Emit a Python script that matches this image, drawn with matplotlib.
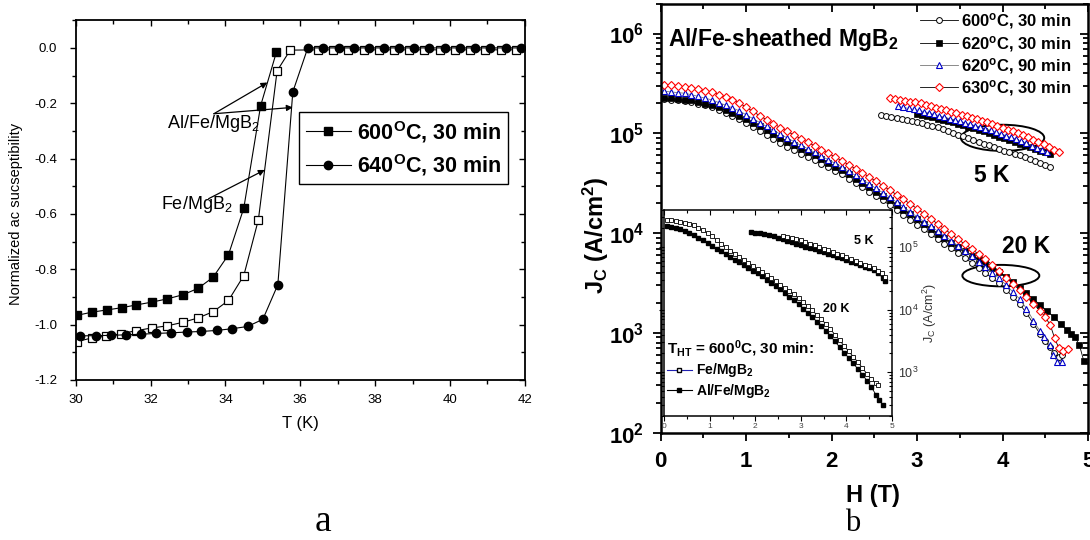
import numpy as np
import matplotlib
matplotlib.use("Agg")
import matplotlib.pyplot as plt
from matplotlib.patches import Ellipse
from matplotlib.lines import Line2D
from matplotlib.ticker import MultipleLocator, LogLocator, NullFormatter

plt.rcParams['font.family'] = ['Liberation Sans', 'DejaVu Sans']
plt.rcParams['mathtext.default'] = 'regular'
plt.rcParams['axes.unicode_minus'] = False

RED = '#ff0000'
BLUE = '#0000c8'

# ---------------- panel a: normalized ac susceptibility ----------------
t_alfe600 = [30.02, 30.44, 30.84, 31.23, 31.62, 32.03, 32.45, 32.87, 33.27, 33.67,
             34.08, 34.49, 34.94, 35.36]
chi_alfe600 = [-0.967, -0.955, -0.947, -0.939, -0.929, -0.919, -0.907, -0.892, -0.869, -0.829,
               -0.748, -0.579, -0.209, -0.016]

t_fe600 = [30.02, 30.44, 30.81, 31.21, 31.62, 32.04, 32.43, 32.86, 33.27, 33.68,
           34.08, 34.49, 34.88, 35.38, 35.73, 36.46, 36.87, 37.28, 37.69, 38.10,
           38.50, 38.90, 39.30, 39.72, 40.13, 40.53, 40.94, 41.35, 41.76]
chi_fe600 = [-1.062, -1.048, -1.042, -1.033, -1.022, -1.012, -1.005, -0.992, -0.976, -0.953,
             -0.913, -0.823, -0.621, -0.083, -0.008, -0.007, -0.007, -0.007, -0.007, -0.007,
             -0.007, -0.007, -0.007, -0.007, -0.007, -0.007, -0.007, -0.007, -0.007]

t_alfe640 = [30.11, 30.53, 30.95, 31.34, 31.74, 32.15, 32.54, 32.97, 33.36, 33.78,
             34.18, 34.59, 35.00, 35.40, 35.80, 36.20, 36.62, 37.04, 37.44, 37.83,
             38.24, 38.64, 39.05, 39.45, 39.86, 40.27, 40.68, 41.08, 41.49, 41.91]
chi_alfe640 = [-1.041, -1.040, -1.039, -1.037, -1.035, -1.032, -1.030, -1.027, -1.025, -1.021,
               -1.015, -1.007, -0.981, -0.856, -0.159, 0.0, 0.0, 0.0, 0.0, 0.0,
               0.0, 0.0, 0.0, 0.0, 0.0, 0.0, 0.0, 0.0, 0.0, 0.0]

# ---------------- panel b: Jc(H), log10 values ----------------
h20 = [0.04, 0.12, 0.20, 0.28, 0.36, 0.44, 0.52, 0.60, 0.68, 0.76, 0.84, 0.92, 1.00, 1.08,
       1.16, 1.24, 1.32, 1.40, 1.48, 1.56, 1.64, 1.72, 1.80, 1.88, 1.96, 2.04, 2.12, 2.20,
       2.28, 2.36, 2.44, 2.52, 2.60, 2.68, 2.76, 2.84, 2.92, 3.00, 3.08, 3.16, 3.24, 3.32,
       3.40, 3.48, 3.56, 3.64, 3.72, 3.80, 3.88, 3.96, 4.04, 4.12, 4.20, 4.28, 4.36, 4.44]

lg20_630 = [5.487, 5.480, 5.473, 5.467, 5.455, 5.442, 5.428, 5.415,
            5.388, 5.362, 5.335, 5.304, 5.262, 5.219, 5.176, 5.136,
            5.097, 5.058, 5.020, 4.983, 4.947, 4.911, 4.875, 4.838,
            4.800, 4.763, 4.725, 4.685, 4.645, 4.605, 4.563, 4.519,
            4.475, 4.431, 4.385, 4.338, 4.292, 4.245, 4.194, 4.144,
            4.093, 4.042, 3.990, 3.938, 3.888, 3.839, 3.789, 3.740,
            3.678, 3.616, 3.554, 3.492, 3.430, 3.362, 3.294, 3.220]
h20_630_tail = [4.50, 4.56, 4.61, 4.66, 4.71, 4.76]
lg20_630_tail = [3.160, 3.075, 2.945, 2.845, 2.820, 2.840]

lg20_620_90 = [5.422, 5.415, 5.408, 5.402, 5.387, 5.370, 5.352, 5.335,
               5.308, 5.282, 5.255, 5.225, 5.186, 5.147, 5.108, 5.069,
               5.030, 4.992, 4.954, 4.917, 4.881, 4.846, 4.810, 4.773,
               4.736, 4.700, 4.661, 4.620, 4.578, 4.536, 4.493, 4.448,
               4.404, 4.359, 4.311, 4.262, 4.212, 4.163, 4.116, 4.068,
               4.021, 3.973, 3.924, 3.874, 3.822, 3.768, 3.714, 3.660,
               3.603, 3.546, 3.482, 3.411, 3.340, 3.244, 3.124, 3.016]
h20_620_90_tail = [4.49, 4.55, 4.59, 4.64, 4.69]
lg20_620_90_tail = [2.960, 2.877, 2.777, 2.710, 2.710]

lg20_620_30 = [5.355, 5.350, 5.345, 5.338, 5.330, 5.314, 5.298, 5.283,
               5.259, 5.231, 5.203, 5.175, 5.140, 5.106, 5.071, 5.034,
               4.995, 4.956, 4.917, 4.882, 4.848, 4.813, 4.779, 4.743,
               4.705, 4.667, 4.628, 4.589, 4.546, 4.503, 4.460, 4.417,
               4.374, 4.331, 4.284, 4.236, 4.188, 4.140, 4.092, 4.044,
               3.996, 3.949, 3.905, 3.861, 3.817, 3.775, 3.735, 3.695,
               3.653, 3.611, 3.563, 3.509, 3.455, 3.397, 3.339, 3.281]
h20_620_30_tail = [4.52, 4.60, 4.68, 4.75, 4.80, 4.85, 4.90, 4.95]
lg20_620_30_tail = [3.220, 3.160, 3.090, 3.030, 2.990, 2.955, 2.875, 2.720]

lg20_600 = [5.345, 5.339, 5.333, 5.327, 5.313, 5.298, 5.282, 5.267,
            5.236, 5.205, 5.173, 5.140, 5.101, 5.062, 5.023, 4.984,
            4.945, 4.906, 4.867, 4.831, 4.797, 4.763, 4.729, 4.695,
            4.660, 4.626, 4.589, 4.547, 4.504, 4.461, 4.417, 4.372,
            4.327, 4.281, 4.233, 4.184, 4.134, 4.085, 4.037, 3.989,
            3.941, 3.894, 3.848, 3.802, 3.752, 3.701, 3.651, 3.600,
            3.548, 3.496, 3.434, 3.362, 3.290, 3.198, 3.094, 2.987]
h20_600_tail = [4.50, 4.55, 4.60, 4.66, 4.70]
lg20_600_tail = [2.920, 2.860, 2.800, 2.760, 2.780]

h5_630 = [2.68, 2.74, 2.80, 2.86, 2.92, 2.98, 3.04, 3.10, 3.16, 3.22, 3.28, 3.34, 3.40, 3.46,
          3.52, 3.58, 3.64, 3.70, 3.76, 3.82, 3.88, 3.94, 4.00, 4.06, 4.12, 4.18, 4.24, 4.30,
          4.36, 4.42, 4.48, 4.54, 4.60, 4.66]
lg5_630 = [5.356, 5.348, 5.338, 5.328, 5.319, 5.310, 5.300, 5.286, 5.272, 5.258, 5.244, 5.230,
           5.217, 5.202, 5.186, 5.171, 5.156, 5.140, 5.125, 5.109, 5.091, 5.073, 5.055, 5.038,
           5.020, 5.002, 4.981, 4.959, 4.937, 4.915, 4.892, 4.865, 4.838, 4.810]

h5_620_90 = [2.78, 2.84, 2.90, 2.96, 3.02, 3.08, 3.14, 3.20, 3.26, 3.32, 3.38, 3.44, 3.50, 3.56,
             3.62, 3.68, 3.74, 3.80, 3.86, 3.92, 3.98, 4.04, 4.10, 4.16, 4.22, 4.28, 4.34, 4.40,
             4.46, 4.52]
lg5_620_90 = [5.269, 5.259, 5.250, 5.240, 5.231, 5.217, 5.203, 5.190, 5.176, 5.162, 5.148, 5.134,
              5.120, 5.106, 5.091, 5.077, 5.063, 5.048, 5.031, 5.013, 4.995, 4.977, 4.959, 4.941,
              4.922, 4.900, 4.878, 4.855, 4.833, 4.810]

h5_620_30 = [3.00, 3.06, 3.12, 3.18, 3.24, 3.30, 3.36, 3.42, 3.48, 3.54, 3.60, 3.66, 3.72, 3.78,
             3.84, 3.90, 3.96, 4.02, 4.08, 4.14, 4.20, 4.26, 4.32, 4.38, 4.44, 4.50, 4.56]
lg5_620_30 = [5.194, 5.182, 5.171, 5.159, 5.147, 5.135, 5.124, 5.112, 5.097, 5.081, 5.066, 5.051,
              5.035, 5.020, 5.003, 4.985, 4.967, 4.949, 4.932, 4.914, 4.896, 4.879, 4.861, 4.844,
              4.827, 4.809, 4.792]

h5_600 = [2.58, 2.64, 2.70, 2.76, 2.82, 2.88, 2.94, 3.00, 3.06, 3.12, 3.18, 3.24, 3.30, 3.36,
          3.42, 3.48, 3.54, 3.60, 3.66, 3.72, 3.78, 3.84, 3.90, 3.96, 4.02, 4.08, 4.14, 4.20,
          4.26, 4.32, 4.38, 4.44, 4.50, 4.56]
lg5_600 = [5.179, 5.172, 5.164, 5.156, 5.148, 5.137, 5.124, 5.112, 5.099, 5.086, 5.073, 5.059,
           5.041, 5.023, 5.005, 4.988, 4.970, 4.952, 4.934, 4.916, 4.898, 4.880, 4.862, 4.844,
           4.826, 4.810, 4.794, 4.778, 4.762, 4.746, 4.726, 4.706, 4.686, 4.666]

# ---------------- inset: T_HT = 600 C, 30 min ----------------
hin20_fe = [0.05, 0.15, 0.25, 0.35, 0.45, 0.55, 0.65, 0.75, 0.85, 0.95, 1.05, 1.15, 1.25, 1.35,
            1.45, 1.55, 1.65, 1.75, 1.85, 1.95, 2.05, 2.15, 2.25, 2.35, 2.45, 2.55, 2.65, 2.75,
            2.85, 2.95, 3.05, 3.15, 3.25, 3.35, 3.45, 3.55, 3.65, 3.75, 3.85, 3.95, 4.05, 4.15,
            4.25, 4.35, 4.45, 4.55, 4.65, 4.70]
lgin20_fe = [5.437, 5.431, 5.425, 5.410, 5.393, 5.376, 5.356, 5.312, 5.269, 5.226,
             5.176, 5.117, 5.058, 4.999, 4.946, 4.896, 4.845, 4.795, 4.746, 4.697,
             4.648, 4.600, 4.551, 4.502, 4.453, 4.401, 4.350, 4.298, 4.245, 4.183,
             4.120, 4.058, 3.991, 3.919, 3.847, 3.774, 3.689, 3.600, 3.511, 3.423,
             3.336, 3.250, 3.163, 3.072, 2.975, 2.889, 2.830, 2.800]

hin20_alfe = [0.05, 0.15, 0.25, 0.35, 0.45, 0.55, 0.65, 0.75, 0.85, 0.95, 1.05, 1.15, 1.25, 1.35,
              1.45, 1.55, 1.65, 1.75, 1.85, 1.95, 2.05, 2.15, 2.25, 2.35, 2.45, 2.55, 2.65, 2.75,
              2.85, 2.95, 3.05, 3.15, 3.25, 3.35, 3.45, 3.55, 3.65, 3.75, 3.85, 3.95, 4.05, 4.15,
              4.25, 4.35, 4.45, 4.55, 4.65, 4.72, 4.80]
lgin20_alfe = [5.343, 5.328, 5.313, 5.286, 5.257, 5.227, 5.196, 5.152, 5.109, 5.066,
               5.022, 4.978, 4.933, 4.889, 4.845, 4.802, 4.759, 4.716, 4.671, 4.627,
               4.582, 4.535, 4.484, 4.434, 4.383, 4.327, 4.269, 4.212, 4.153, 4.087,
               4.020, 3.953, 3.884, 3.812, 3.740, 3.667, 3.582, 3.493, 3.404, 3.316,
               3.229, 3.143, 3.056, 2.965, 2.868, 2.763, 2.638, 2.560, 2.480]

hin5_fe = [2.6, 2.7, 2.8, 2.9, 3.0, 3.1, 3.2, 3.3, 3.4, 3.5, 3.6, 3.7, 3.8, 3.9, 4.0, 4.1,
           4.2, 4.3, 4.4, 4.5, 4.6, 4.7, 4.78, 4.85]
lgin5_fe = [5.186, 5.169, 5.151, 5.134, 5.115, 5.088, 5.060, 5.033, 5.006, 4.979, 4.952, 4.924,
            4.897, 4.869, 4.841, 4.814, 4.785, 4.755, 4.724, 4.694, 4.663, 4.621, 4.587, 4.517]

hin5_alfe = [1.9, 2.0, 2.1, 2.2, 2.3, 2.4, 2.5, 2.6, 2.7, 2.8, 2.9, 3.0, 3.1, 3.2, 3.3, 3.4,
             3.5, 3.6, 3.7, 3.8, 3.9, 4.0, 4.1, 4.2, 4.3, 4.4, 4.5, 4.6, 4.7, 4.8, 4.85]
lgin5_alfe = [5.241, 5.235, 5.224, 5.215, 5.199, 5.174, 5.150, 5.126, 5.101, 5.077,
              5.054, 5.032, 5.010, 4.988, 4.966, 4.944, 4.922, 4.899, 4.874, 4.848,
              4.822, 4.797, 4.771, 4.746, 4.720, 4.691, 4.662, 4.633, 4.588, 4.505, 4.464]


def jc(lg):
    return 10 ** np.asarray(lg)


def in_out_ticks(ax, xmaj, xmin, log_y=False, ymaj=None, ymin=None, length=5, width=1.0):
    """ bottom/left ticks outward, top/right ticks inward (Origin style) """
    ax.tick_params(which='both', direction='out', top=False, right=False, width=width)
    ax.tick_params(which='major', length=length)
    ax.tick_params(which='minor', length=length * 0.6)
    top = ax.secondary_xaxis('top')
    top.xaxis.set_major_locator(MultipleLocator(xmaj))
    top.xaxis.set_minor_locator(MultipleLocator(xmin))
    right = ax.secondary_yaxis('right')
    if log_y:
        right.yaxis.set_major_locator(LogLocator(base=10, numticks=12))
        right.yaxis.set_minor_locator(LogLocator(base=10, subs=np.arange(2, 10), numticks=40))
    else:
        right.yaxis.set_major_locator(MultipleLocator(ymaj))
        right.yaxis.set_minor_locator(MultipleLocator(ymin))
    for sec in (top, right):
        sec.tick_params(which='both', direction='in', labeltop=False, labelright=False,
                        width=width)
        sec.tick_params(which='major', length=length)
        sec.tick_params(which='minor', length=length * 0.6)
        for sp in sec.spines.values():
            sp.set_visible(False)
    return top, right


fig = plt.figure(figsize=(10.9, 5.4), dpi=100)

# ---------------- panel a ----------------
ax1 = fig.add_axes([0.0695, 0.2965, 0.412, 0.666])
ax1.plot(t_fe600, chi_fe600, '-s', color='black', lw=0.8, ms=5.2, mfc='white',
         mec='black', mew=0.9, label='_nolegend_')
ax1.plot(t_alfe600, chi_alfe600, '-s', color='black', lw=0.8, ms=5.5,
         label='600$^O$C, 30 min')
ax1.plot(t_alfe640, chi_alfe640, '-o', color='black', lw=0.8, ms=6,
         label='640$^O$C, 30 min')
ax1.set_xlim(30, 42)
ax1.set_ylim(-1.2, 0.1)
ax1.xaxis.set_major_locator(MultipleLocator(2))
ax1.xaxis.set_minor_locator(MultipleLocator(1))
ax1.yaxis.set_major_locator(MultipleLocator(0.2))
ax1.yaxis.set_minor_locator(MultipleLocator(0.1))
ax1.yaxis.set_major_formatter(plt.FormatStrFormatter('%.1f'))
in_out_ticks(ax1, 2, 1, ymaj=0.2, ymin=0.1, length=4.5, width=1.0)
ax1.tick_params(axis='y', labelsize=9.5, pad=9)
ax1.tick_params(axis='x', labelsize=9.5, pad=6)
for sp in ax1.spines.values():
    sp.set_linewidth(1.3)
ax1.set_xlabel('T (K)', fontsize=12)
ax1.xaxis.set_label_coords(0.5, -0.10)
ax1.set_ylabel('Normalized ac sucseptibility', fontsize=10.5)
ax1.yaxis.set_label_coords(-0.118, 0.462)

arrow = dict(arrowstyle='-|>', color='black', lw=0.9, mutation_scale=9,
             shrinkA=0, shrinkB=0)
ax1.annotate('', xy=(35.12, -0.125), xytext=(33.69, -0.238), arrowprops=arrow)
ax1.annotate('', xy=(35.80, -0.215), xytext=(33.69, -0.238), arrowprops=arrow)
ax1.annotate('', xy=(35.05, -0.441), xytext=(33.55, -0.545), arrowprops=arrow)
ax1.text(32.43, -0.272, 'Al/Fe/MgB$_2$', fontsize=13, ha='left', va='center')
ax1.text(32.29, -0.566, 'Fe/MgB$_2$', fontsize=13, ha='left', va='center')

leg1 = ax1.legend(loc='center', bbox_to_anchor=(0.7305, 0.644),
                  prop={'weight': 'bold', 'size': 15.5}, frameon=True, fancybox=False,
                  edgecolor='black', framealpha=1, handlelength=2.1, handletextpad=0.3,
                  borderpad=0.3, labelspacing=0.35, borderaxespad=0)
leg1.get_frame().set_linewidth(1.0)

fig.text(0.2966, 0.017, 'a', family='Liberation Serif', fontsize=27,
         ha='center', va='baseline')

# ---------------- panel b ----------------
ax2 = fig.add_axes([0.6061, 0.1987, 0.3921, 0.7948])
ax2.set_yscale('log')

st600 = dict(marker='o', ms=4.2, mfc='white', mec='black', mew=0.7, color='black', lw=0.6)
st620 = dict(marker='s', ms=3.8, mfc='black', mec='black', mew=0.5, color='black', lw=0.6)
st620_90 = dict(marker='^', ms=4.6, mfc='white', mec=BLUE, mew=0.8, color='#777777', lw=0.6)
st630 = dict(marker='D', ms=4.0, mfc='white', mec=RED, mew=0.8, color='black', lw=0.6)

ax2.plot(h20 + h20_600_tail, jc(lg20_600 + lg20_600_tail), **st600)
ax2.plot(h20 + h20_620_30_tail, jc(lg20_620_30 + lg20_620_30_tail), **st620)
ax2.plot(h20 + h20_620_90_tail, jc(lg20_620_90 + lg20_620_90_tail), **st620_90)
ax2.plot(h20 + h20_630_tail, jc(lg20_630 + lg20_630_tail), **st630)

ax2.plot(h5_600, jc(lg5_600), label='600$^o$C, 30 min', **st600)
ax2.plot(h5_620_30, jc(lg5_620_30), label='620$^o$C, 30 min', **st620)
ax2.plot(h5_620_90, jc(lg5_620_90), label='620$^o$C, 90 min', **st620_90)
ax2.plot(h5_630, jc(lg5_630), label='630$^o$C, 30 min', **st630)

ax2.set_xlim(0, 5)
ax2.set_ylim(1e2, 2e6)
ax2.set_yticks([1e2, 1e3, 1e4, 1e5, 1e6])
ax2.set_yticklabels(['10$^2$', '10$^3$', '10$^4$', '10$^5$', '10$^6$'],
                    fontsize=16, fontweight='bold')
ax2.yaxis.set_minor_locator(LogLocator(base=10, subs=np.arange(2, 10), numticks=40))
ax2.yaxis.set_minor_formatter(NullFormatter())
ax2.set_xticks([0, 1, 2, 3, 4, 5])
ax2.set_xticklabels(['0', '1', '2', '3', '4', '5'], fontsize=16, fontweight='bold')
ax2.xaxis.set_minor_locator(MultipleLocator(0.5))
in_out_ticks(ax2, 1, 0.5, log_y=True, length=6, width=1.3)
ax2.tick_params(axis='y', pad=6)
ax2.tick_params(axis='x', pad=7)
for sp in ax2.spines.values():
    sp.set_linewidth(1.8)
ax2.set_xlabel('H (T)', fontsize=17, fontweight='bold')
ax2.xaxis.set_label_coords(0.497, -0.12)
ax2.set_ylabel('J$_C$ (A/cm$^2$)', fontsize=17, fontweight='bold')
ax2.yaxis.set_label_coords(-0.115, 0.46)

ax2.text(0.018, 0.915, 'Al/Fe-sheathed MgB$_2$', transform=ax2.transAxes,
         fontsize=16.5, fontweight='bold', ha='left', va='center')
ax2.text(3.87, 3.8e4, '5 K', fontsize=16.5, fontweight='bold', ha='center', va='center')
ax2.text(4.28, 7.4e3, '20 K', fontsize=16.5, fontweight='bold', ha='center', va='center')
ax2.add_patch(Ellipse((0.80, 0.687), 0.195, 0.061, transform=ax2.transAxes,
                      fill=False, lw=1.4, color='black'))
ax2.add_patch(Ellipse((0.796, 0.366), 0.180, 0.050, transform=ax2.transAxes,
                      fill=False, lw=1.4, color='black'))

ax2.legend(loc='upper right', bbox_to_anchor=(0.985, 1.005), frameon=False,
           prop={'weight': 'bold', 'size': 12}, handlelength=2.3, handletextpad=0.2,
           labelspacing=0.14, borderaxespad=0.2)

fig.text(0.782, 0.016, 'b', family='Liberation Serif', fontsize=22,
         ha='center', va='baseline')

# ---------------- inset ----------------
axin = fig.add_axes([0.6094, 0.2296, 0.2089, 0.3822])
axin.set_yscale('log')
axin.plot(hin20_alfe, jc(lgin20_alfe), '-s', color='black', lw=0.6, ms=3.3, mec='black')
axin.plot(hin20_fe, jc(lgin20_fe), '-s', color='black', lw=0.6, ms=3.3, mfc='white',
          mec='black', mew=0.6)
axin.plot(hin5_alfe, jc(lgin5_alfe), '-s', color='black', lw=0.6, ms=3.3, mec='black')
axin.plot(hin5_fe, jc(lgin5_fe), '-s', color='black', lw=0.6, ms=3.3, mfc='white',
          mec='black', mew=0.6)
axin.set_xlim(0, 5)
axin.set_ylim(2e2, 4e5)
axin.xaxis.set_major_locator(MultipleLocator(1))
axin.xaxis.set_minor_locator(MultipleLocator(0.5))
axin.yaxis.set_minor_locator(LogLocator(base=10, subs=np.arange(2, 10), numticks=40))
axin.yaxis.set_minor_formatter(NullFormatter())
_, in_right = in_out_ticks(axin, 1, 0.5, log_y=True, length=3.5, width=0.8)
axin.tick_params(labelleft=False)
axin.tick_params(axis='x', labelsize=6, labelcolor='#444444', pad=1.5)
in_right.set_yticks([1e3, 1e4, 1e5], labels=['10$^3$', '10$^4$', '10$^5$'])
in_right.tick_params(labelright=True, labelsize=9, labelcolor='#333333', pad=4)
in_right.set_ylabel('J$_C$ (A/cm$^2$)', fontsize=9, color='#333333', labelpad=2)
for sp in axin.spines.values():
    sp.set_linewidth(1.1)

axin.text(4.37, 1.27e5, '5 K', fontsize=9, fontweight='bold', ha='center', va='center')
axin.text(3.78, 1.04e4, '20 K', fontsize=9, fontweight='bold', ha='center', va='center')

h_fe = Line2D([], [], color='#2020b0', lw=0.8, marker='s', ms=3.5, mfc='white', mec='black')
h_alfe = Line2D([], [], color='black', lw=0.8, marker='s', ms=3.5, mfc='black', mec='black')
leg_in = axin.legend([h_fe, h_alfe], ['Fe/MgB$_2$', 'Al/Fe/MgB$_2$'],
                     title='T$_{HT}$ = 600$^0$C, 30 min:', loc='lower left',
                     bbox_to_anchor=(0.005, 0.07), frameon=False,
                     prop={'weight': 'bold', 'size': 10},
                     title_fontproperties={'weight': 'bold', 'size': 11},
                     alignment='left', handlelength=1.8, handletextpad=0.3,
                     labelspacing=0.2, borderaxespad=0, borderpad=0.1)

fig.savefig('out.png', dpi=100)
